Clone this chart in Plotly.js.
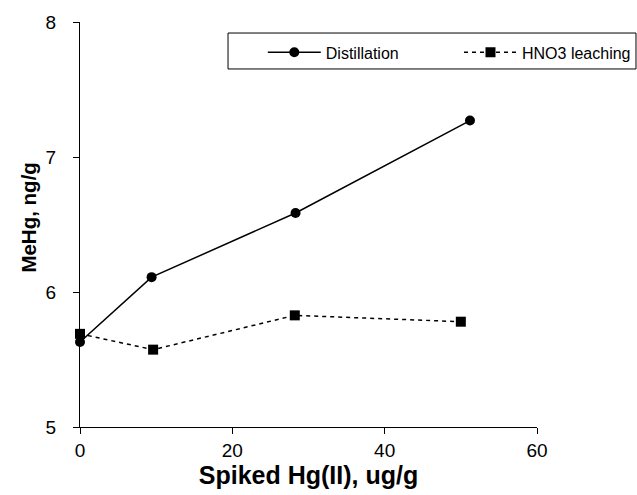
<!DOCTYPE html>
<html>
<head>
<meta charset="utf-8">
<script src="https://cdn.plot.ly/plotly-3.0.1.min.js"></script>
<style>html,body{margin:0;padding:0;background:#fff;}#chart{width:637px;height:495px;}</style>
</head>
<body>
<div id="chart"></div>
<script>
const distX = [0, 9.4, 28.3, 51.2];
const distY = [5.63, 6.11, 6.585, 7.27];
const hnoX = [0, 9.6, 28.2, 50.0];
const hnoY = [5.69, 5.573, 5.827, 5.78];
const seriesNames = ["Distillation", "HNO3 leaching"];
const xTicks = [0, 20, 40, 60];
const yTicks = [5, 6, 7, 8];

const traces = [
  {x: distX, y: distY, name: seriesNames[0], type: 'scatter', mode: 'lines+markers', legend: 'legend',
   line: {color: '#000', width: 1.5}, marker: {symbol: 'circle', size: 10, color: '#000'}, cliponaxis: false},
  {x: hnoX, y: hnoY, name: seriesNames[1], type: 'scatter', mode: 'lines+markers', legend: 'legend2',
   line: {color: '#000', width: 1.5, dash: '4px,4px'}, marker: {symbol: 'square', size: 10, color: '#000'}, cliponaxis: false}
];

const FF = 'Liberation Sans, Arial, sans-serif';
const axisFont = {family: FF, size: 19, color: '#000'};
const legendBase = {
  orientation: 'h', y: 0.967, xanchor: 'left', yanchor: 'top',
  borderwidth: 0, bgcolor: 'rgba(0,0,0,0)',
  font: {family: FF, size: 16, color: '#000'},
  itemwidth: 53
};
const layout = {
  width: 637, height: 495,
  margin: {l: 80, r: 100, t: 22, b: 68, autoexpand: false},
  paper_bgcolor: '#fff', plot_bgcolor: '#fff',
  showlegend: true,
  shapes: [{type: 'rect', xref: 'paper', yref: 'paper', x0: 0.3239, x1: 1.2166, y0: 0.884, y1: 0.9728,
            line: {color: '#000', width: 1}, fillcolor: 'rgba(0,0,0,0)', layer: 'below'}],
  legend: Object.assign({}, legendBase, {x: 0.400}),
  legend2: Object.assign({}, legendBase, {x: 0.8293}),
  annotations: [{
    text: '<b>MeHg, ng/g</b>', xref: 'paper', yref: 'paper', x: -0.1116, y: 0.517,
    xanchor: 'center', yanchor: 'middle', textangle: -90, showarrow: false,
    font: {family: FF, size: 20.5, color: '#000'}
  }],
  xaxis: {
    range: [0, 60], tickvals: xTicks, ticktext: xTicks.map(String),
    showline: true, linecolor: '#000', linewidth: 1, showgrid: false, zeroline: false,
    ticks: 'outside', ticklen: 6, tickcolor: '#000', tickfont: axisFont, ticklabelstandoff: 0,
    title: {text: '<b>Spiked Hg(II), ug/g</b>', font: {family: FF, size: 25, color: '#000'}, standoff: 6}
  },
  yaxis: {
    range: [5, 8], tickvals: yTicks, ticktext: yTicks.map(String),
    showline: true, linecolor: '#000', linewidth: 1, showgrid: false, zeroline: false,
    ticks: 'outside', ticklen: 6, tickcolor: '#000', tickfont: axisFont, ticklabelstandoff: 13
  }
};
Plotly.newPlot('chart', traces, layout, {displayModeBar: false, staticPlot: true});
</script>
</body>
</html>
